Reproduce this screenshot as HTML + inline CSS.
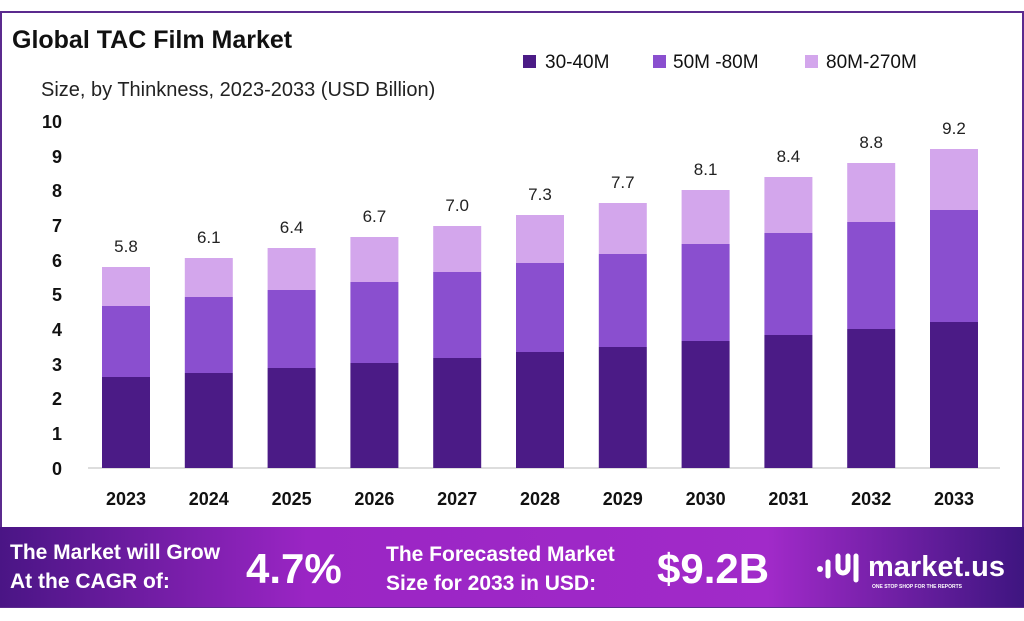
<!DOCTYPE html><html><head><style>body{margin:0;background:#fff}svg{display:block}</style></head><body>
<svg width="1024" height="621" xmlns="http://www.w3.org/2000/svg" font-family="Liberation Sans, sans-serif">
<defs><linearGradient id="g" x1="0" x2="1"><stop offset="0" stop-color="#4a1585"/><stop offset="0.3" stop-color="#9a25c4"/><stop offset="0.75" stop-color="#a12ac9"/><stop offset="1" stop-color="#3e1580"/></linearGradient></defs>
<rect x="1" y="12" width="1022" height="595" fill="#fff" stroke="#5b2a8e" stroke-width="2"/>
<text x="12" y="48" font-size="25" font-weight="bold" fill="#111">Global TAC Film Market</text>
<text x="41" y="96" font-size="20" fill="#222">Size, by Thinkness, 2023-2033 (USD Billion)</text>
<rect x="523" y="55" width="13" height="13" fill="#4b1b86"/><text x="545" y="68" font-size="19" fill="#111">30-40M</text>
<rect x="653" y="55" width="13" height="13" fill="#8a4fcf"/><text x="673" y="68" font-size="19" fill="#111">50M -80M</text>
<rect x="805" y="55" width="13" height="13" fill="#d3a6ec"/><text x="826" y="68" font-size="19" fill="#111">80M-270M</text>
<g font-size="18" font-weight="bold" fill="#111" text-anchor="end">
<text x="62" y="128">10</text><text x="62" y="163">9</text><text x="62" y="197">8</text><text x="62" y="232">7</text><text x="62" y="267">6</text><text x="62" y="301">5</text><text x="62" y="336">4</text><text x="62" y="371">3</text><text x="62" y="405">2</text><text x="62" y="440">1</text><text x="62" y="475">0</text></g>
<line x1="88" y1="468" x2="1000" y2="468" stroke="#bbb" stroke-width="1"/>
<g id="bars"></g>
<rect x="0" y="527" width="1024" height="80" fill="url(#g)"/>
<g fill="#fff" font-weight="bold">
<text x="10" y="559" font-size="21">The Market will Grow</text>
<text x="10" y="588" font-size="21">At the CAGR of:</text>
<text x="246" y="583" font-size="42">4.7%</text>
<text x="386" y="561" font-size="21">The Forecasted Market</text>
<text x="386" y="590" font-size="21">Size for 2033 in USD:</text>
<text x="657" y="583" font-size="42">$9.2B</text>
<text x="868" y="576" font-size="29">market.us</text>
<text x="872" y="588" font-size="5">ONE STOP SHOP FOR THE REPORTS</text>
</g>
<g fill="none" stroke="#fff" stroke-width="5" stroke-linecap="round">
<path d="M828 562 v14 M838 556 v12 a5 5 0 0 0 10 0 v-12 M856 556 v24"/>
</g>
<circle cx="820" cy="569" r="3" fill="#fff"/>
</svg>
<script>
var d=[[377,306,267,"5.8"],[373,297,258,"6.1"],[368,290,248,"6.4"],[363,282,237,"6.7"],[358,272,226,"7.0"],[352,263,215,"7.3"],[347,254,203,"7.7"],[341,244,190,"8.1"],[335,233,177,"8.4"],[329,222,163,"8.8"],[322,210,149,"9.2"]];
var s="";d.forEach(function(b,i){var x=102+i*82.8,c=x+24;
s+='<rect x="'+x+'" y="'+b[2]+'" width="48" height="'+(b[1]-b[2])+'" fill="#d3a6ec"/>';
s+='<rect x="'+x+'" y="'+b[1]+'" width="48" height="'+(b[0]-b[1])+'" fill="#8a4fcf"/>';
s+='<rect x="'+x+'" y="'+b[0]+'" width="48" height="'+(468-b[0])+'" fill="#4b1b86"/>';
s+='<text x="'+c+'" y="'+(b[2]-15)+'" font-size="17" text-anchor="middle" fill="#222">'+b[3]+'</text>';
s+='<text x="'+c+'" y="505" font-size="18" font-weight="bold" text-anchor="middle" fill="#111">'+(2023+i)+'</text>';});
document.getElementById("bars").innerHTML=s;
</script>
</body></html>
